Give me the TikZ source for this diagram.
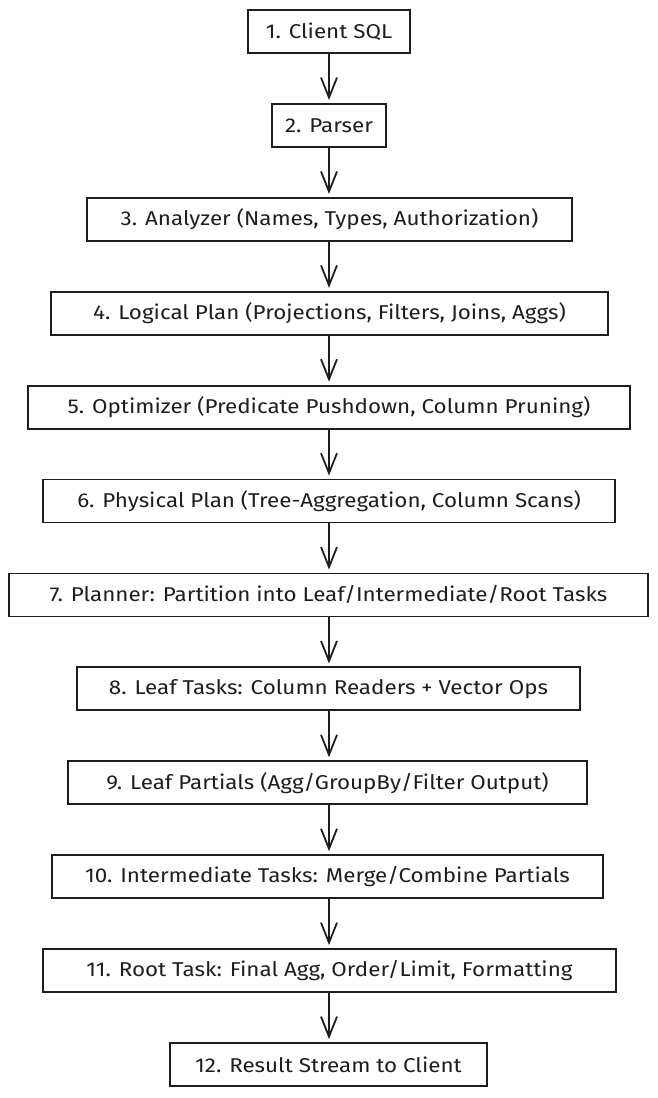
\documentclass[tikz,border=0pt]{standalone}
\usepackage{fontspec}
\setmainfont{Fira Sans}[FakeStretch=1.12]
\usetikzlibrary{arrows.meta}
\definecolor{ink}{HTML}{1E1E1E}
\tikzset{
  stepbox/.style={draw=ink, line width=1.8pt, minimum height=43pt, inner sep=0pt,
    font=\fontsize{20}{24}\selectfont, text=ink, fill=white},
  flow/.style={draw=ink, line width=1.8pt,
    -{Straight Barb[length=20pt, width=16pt, line width=1.8pt]}, shorten >=3pt}
}
\begin{document}
\begin{tikzpicture}[x=1pt, y=-1pt]
\fill[white] (0,0) rectangle (658,1098);
\useasboundingbox (0,0) rectangle (658,1098);
\def\dy{93.9}
\node[stepbox, minimum width=162pt] (n1) at (329, 31.5) {1. Client SQL};
\node[stepbox, minimum width=114pt] (n2) at (329, 31.5+1*\dy) {2. Parser};
\node[stepbox, minimum width=485pt] (n3) at (329.5, 31.5+2*\dy) {3. Analyzer (Names, Types, Authorization)};
\node[stepbox, minimum width=557pt] (n4) at (329.5, 31.5+3*\dy) {4. Logical Plan (Projections, Filters, Joins, Aggs)};
\node[stepbox, minimum width=602pt] (n5) at (329, 31.5+4*\dy) {5. Optimizer (Predicate Pushdown, Column Pruning)};
\node[stepbox, minimum width=572pt] (n6) at (329, 31.5+5*\dy) {6. Physical Plan (Tree-Aggregation, Column Scans)};
\node[stepbox, minimum width=639pt] (n7) at (328.5, 31.5+6*\dy) {7. Planner: Partition into Leaf/Intermediate/Root Tasks};
\node[stepbox, minimum width=503pt] (n8) at (328.5, 31.5+7*\dy) {8. Leaf Tasks: Column Readers + Vector Ops};
\node[stepbox, minimum width=519pt] (n9) at (327.5, 31.5+8*\dy) {9. Leaf Partials (Agg/GroupBy/Filter Output)};
\node[stepbox, minimum width=551pt] (n10) at (327.5, 31.5+9*\dy) {10. Intermediate Tasks: Merge/Combine Partials};
\node[stepbox, minimum width=573pt] (n11) at (329.5, 31.5+10*\dy) {11. Root Task: Final Agg, Order/Limit, Formatting};
\node[stepbox, minimum width=317pt] (n12) at (328.5, 31.5+11*\dy) {12. Result Stream to Client};
\foreach \a/\b in {1/2,2/3,3/4,4/5,5/6,6/7,7/8,8/9,9/10,10/11,11/12}{
  \draw[flow] (n\a.south -| 329,0) -- (n\b.north -| 329,0);
}
\end{tikzpicture}
\end{document}
